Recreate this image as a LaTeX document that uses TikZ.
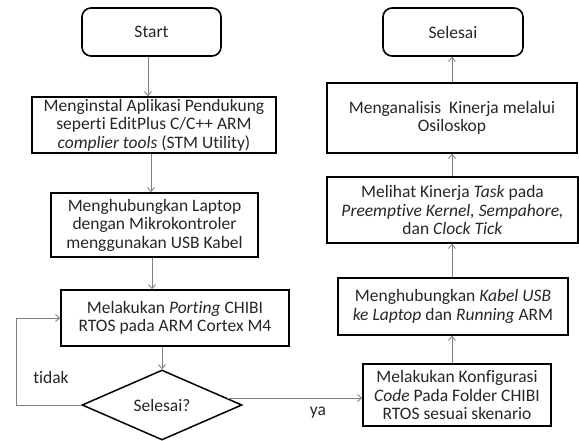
\documentclass[tikz,border=0pt]{standalone}
\usepackage{fontspec}
\setmainfont{Carlito}[Ligatures=NoCommon]
\usetikzlibrary{arrows.meta,positioning,shapes.geometric}

\begin{document}
\begin{tikzpicture}[
  x=1pt, y=-1pt,
  >={Straight Barb[length=4pt,width=7pt]},
  txt/.style={font=\fontsize{17.5}{18.5}\selectfont, text=black!85},
  box/.style={txt, draw, line width=1.6pt, align=center, inner sep=0pt},
  term/.style={box, rounded corners=9pt},
  dec/.style={txt, diamond, draw, line width=1.5pt, inner sep=0pt, aspect=2.3},
  flow/.style={->, draw=black!50, line width=0.9pt}
]
\useasboundingbox (0,0) rectangle (579,441);

\node[term, minimum width=139pt, minimum height=48pt] (start) at (151.5,32) {Start};
\node[box, minimum width=244pt, minimum height=56pt] (inst) at (154,125)
  {Menginstal Aplikasi Pendukung\\seperti EditPlus C/C++ ARM\\\textit{complier tools} (STM Utility)};
\node[box, minimum width=207pt, minimum height=64pt] (hub) at (154.5,225)
  {Menghubungkan Laptop\\dengan Mikrokontroler\\menggunakan USB Kabel};
\node[box, minimum width=228pt, minimum height=56pt] (port) at (175,318)
  {Melakukan \textit{Porting} CHIBI\\RTOS pada ARM Cortex M4};
\node[dec, minimum width=160pt, minimum height=70pt] (cek) at (162,405) {Selesai?};

\node[term, minimum width=140pt, minimum height=48pt] (stop) at (453,32) {Selesai};
\node[box, minimum width=250pt, minimum height=70pt] (osc) at (452,118)
  {Menganalisis~ Kinerja melalui\\Osiloskop};
\node[box, minimum width=251pt, minimum height=66pt] (lihat) at (452.5,210)
  {Melihat Kinerja \textit{Task} pada\\\textit{Preemptive Kernel, Sempahore,}\\dan \textit{Clock Tick}};
\node[box, minimum width=230pt, minimum height=57pt] (run) at (453,306.5)
  {Menghubungkan \textit{Kabel USB}\\\textit{ke Laptop} dan \textit{Running} ARM};
\node[box, minimum width=188pt, minimum height=62pt] (konf) at (457,395)
  {Melakukan Konfigurasi\\\textit{Code} Pada Folder CHIBI\\RTOS sesuai skenario};

\draw[flow] (start.south -| 148,0) -- (inst.north -| 148,0);
\draw[flow] (inst.south -| 151,0) -- (hub.north -| 151,0);
\draw[flow] (hub.south -| 152,0) -- (port.north -| 152,0);
\draw[flow] (cek.north |- port.south) -- (cek.north);

\coordinate (loopL) at (16,405);
\draw[flow] (cek.west) -- (loopL) |- (port.west);
\node[txt] (tidak) at (51,377) {tidak};

\coordinate (yaS) at ([xshift=-16pt,yshift=7pt]cek.east);
\draw[flow] (yaS) -- (konf.west |- yaS);
\node[txt] (ya) at (318,413) {ya};

\draw[flow] (konf.north -| 452,0) -- (run.south -| 452,0);
\draw[flow] (run.north -| 452,0) -- (lihat.south -| 452,0);
\draw[flow] (lihat.north -| 452,0) -- (osc.south -| 452,0);
\draw[flow] (osc.north -| 452,0) -- (stop.south -| 452,0);
\end{tikzpicture}
\end{document}
